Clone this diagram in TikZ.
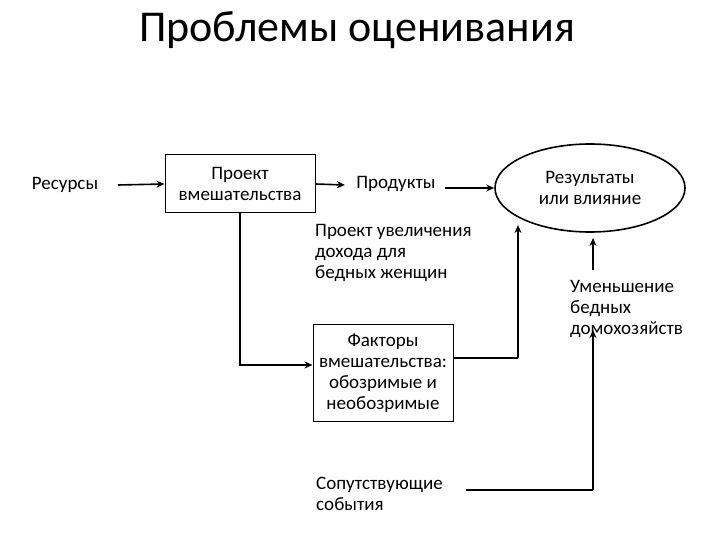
\documentclass[tikz,border=0pt]{standalone}
\usepackage{fontspec}
\setmainfont{Carlito}
\usetikzlibrary{arrows.meta,shapes.geometric}
\begin{document}
\begin{tikzpicture}[x=1pt,y=-1pt,
  txt/.style={font=\fontsize{19}{21}\selectfont, align=center, inner sep=0},
  ltxt/.style={font=\fontsize{19}{21}\selectfont, align=left, inner sep=0},
  box/.style={draw, line width=1pt, txt},
  arr/.style={line width=1.6pt, -{Stealth[length=8pt,width=7pt]}},
  ln/.style={line width=1.6pt}]
\useasboundingbox (0,0) rectangle (720,540);
\node[font=\fontsize{44}{48}\selectfont, inner sep=0] (title) at (357,30) {Проблемы оценивания};
\node[txt] (res) at (65,185) {Ресурсы};
\node[box, minimum width=150, minimum height=58] (proj) at (240,184) {Проект\\вмешательства};
\node[txt] (prod) at (396,184) {Продукты};
\node[draw, ellipse, line width=1.6pt, minimum width=190, minimum height=88, inner sep=0, txt] (resu) at (590,188) {Результаты\\или влияние};
\node[ltxt, anchor=north west] (inc) at (315,224) {Проект увеличения\\дохода для\\бедных женщин};
\node[box, minimum width=140, minimum height=97, inner sep=2pt] (fac) at (383,373) {Факторы\\вмешательства:\\обозримые и\\необозримые};
\node[ltxt, anchor=west] (red) at (570,309) {Уменьшение\\бедных\\домохозяйств};
\node[ltxt, anchor=west] (acc) at (316,494) {Сопутствующие\\события};
\coordinate (c1) at (240,365);
\coordinate (c2) at (518,358);
\coordinate (c3) at (518,225);
\coordinate (c4) at (593,490);
\coordinate (c5) at (593,330);
\coordinate (c6) at (593,270);
\coordinate (c7) at (593,238);
\draw[arr] (118,185) -- (proj.west);
\draw[arr] (proj.east) -- (345,185);
\draw[arr] (445,188) -- (resu.west);
\draw[arr] (proj.south) -- (c1) -- (fac.west |- c1);
\draw[ln] (fac.east |- c2) -- (c2);
\draw[arr] (c2) -- (c3);
\draw[arr] (c6) -- (c7);
\draw[ln] (466,490) -- (c4);
\draw[arr] (c4) -- (c5);
\end{tikzpicture}
\end{document}
